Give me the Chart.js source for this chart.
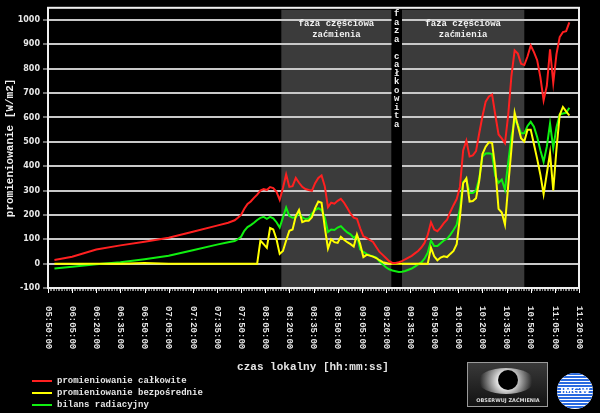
<!DOCTYPE html>
<html>
<head>
<meta charset="utf-8">
<script src="https://cdn.jsdelivr.net/npm/chart.js@4.4.1/dist/chart.umd.min.js"></script>
<style>
  html, body { margin: 0; padding: 0; background: #000; }
</style>
</head>
<body>
<canvas id="promieniowanie" width="600" height="413"></canvas>
<script>
// czas w minutach od 05:50:00
var czas = [4, 15, 30, 45, 60, 75, 90, 105, 112,
  116, 118, 120, 122, 124, 126, 128,
  130, 132, 134, 136, 138, 140, 142, 144, 146, 148,
  150, 152, 154, 156, 158, 160, 162, 164, 166, 168,
  170, 172, 174, 176, 178, 180, 182, 184, 186, 188,
  190, 192, 194, 196, 198, 200, 202, 204, 206, 208,
  210, 212, 214, 216, 218, 220, 222, 224, 226, 228,
  230, 232, 234, 236, 238, 240, 242, 244, 246, 248,
  250, 252, 254, 256, 258, 260, 262, 264, 266, 268,
  270, 272, 274, 276, 278, 280, 282, 284, 286, 288,
  290, 292, 294, 296, 298, 300, 302, 304, 306, 308,
  310, 312, 314, 316, 318, 320, 322, 324];

var calkowite = [15, 28, 58, 75, 90, 106, 131, 156, 168,
  178, 188, 200, 225, 245, 255, 270,
  283, 300, 306, 302, 314, 310, 295, 262, 310, 366,
  315, 318, 352, 332, 315, 306, 302, 299, 330, 352,
  362, 318, 232, 250, 246, 258, 266, 250, 228, 205,
  189, 184, 145, 112, 106, 97, 89, 68, 48, 36,
  23, 10, 3, 3, 6, 10, 18, 25, 32, 42,
  52, 66, 85, 118, 170, 140, 133, 148, 166, 180,
  212, 240, 265, 315, 465, 505, 440, 444, 462, 535,
  605, 665, 686, 694, 610, 530, 514, 494, 610, 770,
  875, 862, 820, 815, 850, 895, 868, 835, 765, 670,
  730, 880, 742, 860, 930, 950, 954, 990];

var bezposrednie = [0, 0, 0, 0, 3, 0, 0, 0, 0,
  0, 0, 0, 0, 0, 0, 0,
  0, 95, 80, 65, 146, 140, 100, 40, 52, 95,
  135, 140, 195, 220, 170, 176, 176, 190, 228, 255,
  250, 150, 62, 100, 88, 85, 110, 98, 88, 80,
  70, 120, 80, 27, 36, 33, 29, 23, 14, 6,
  3, 0, 0, 0, 0, 0, 0, 0, 0, 0,
  0, 0, 0, 0, 66, 30, 14, 25, 30, 27,
  40, 52, 80, 190, 330, 350, 255, 257, 268, 340,
  450, 480, 498, 495, 390, 225, 210, 160, 320, 470,
  620, 565, 515, 501, 550, 550, 490, 430, 365, 285,
  370, 455, 300, 470, 610, 643, 625, 608];

var bilans = [-20, -13, -3, 6, 18, 32, 55, 78, 88,
  93, 100, 110, 135, 150, 158, 168,
  179, 188, 192, 184, 192, 186, 170, 148, 190, 230,
  195, 188, 190, 208, 190, 183, 185, 205, 220, 228,
  220, 190, 130, 140, 138, 148, 154, 140, 128, 120,
  106, 116, 58, 48, 40, 34, 30, 25, 10, -3,
  -15, -23, -28, -31, -34, -33, -30, -25, -20, -12,
  -3, 5, 20, 45, 95, 72, 72, 84, 95, 102,
  118, 138, 160, 225, 335, 345, 290, 290, 300, 350,
  440, 452, 453, 450, 360, 332, 345, 304, 415, 520,
  590, 570, 535, 535, 565, 582, 562, 520, 465, 418,
  480, 575, 475, 560, 612, 616, 619, 640];

var etykiety = ['05:50:00', '06:05:00', '06:20:00', '06:35:00', '06:50:00', '07:05:00',
  '07:20:00', '07:35:00', '07:50:00', '08:05:00', '08:20:00', '08:35:00', '08:50:00',
  '09:05:00', '09:20:00', '09:35:00', '09:50:00', '10:05:00', '10:20:00', '10:35:00',
  '10:50:00', '11:05:00', '11:20:00'];

// fazy zaćmienia (minuty od 05:50:00)
var fazaCzesciowa1 = [145, 213.5];
var fazaCalkowita = [213.5, 220];
var fazaCzesciowa2 = [220, 296];

var nazwy = ['promieniowanie całkowite', 'promieniowanie bezpośrednie', 'bilans radiacyjny'];
var kolory = ['#ff2020', '#ffff00', '#10f010'];

var mono = 'Liberation Mono, Courier New, monospace';

function punkty(seria) {
  return czas.map(function(t, i) { return { x: t, y: seria[i] }; });
}

var tlo = {
  id: 'tlo',
  beforeDraw: function(chart) {
    var c = chart.ctx, a = chart.chartArea, x = chart.scales.x;
    c.save();
    c.fillStyle = '#000';
    c.fillRect(0, 0, chart.width, chart.height);
    c.fillStyle = '#3b3b3b';
    [fazaCzesciowa1, fazaCzesciowa2].forEach(function(f) {
      var x1 = x.getPixelForValue(f[0]), x2 = x.getPixelForValue(f[1]);
      c.fillRect(x1, a.top + 2, x2 - x1, a.bottom - a.top - 2);
    });
    c.restore();
  },
  beforeDatasetsDraw: function(chart) {
    var c = chart.ctx, a = chart.chartArea, x = chart.scales.x;
    c.save();
    // pas fazy całkowitej
    var x1 = x.getPixelForValue(fazaCalkowita[0]), x2 = x.getPixelForValue(fazaCalkowita[1]);
    c.fillStyle = '#000';
    c.fillRect(x1, a.top + 1, x2 - x1, a.bottom - a.top - 1);
    c.fillStyle = '#f2f2f2';
    c.font = 'bold 9px ' + mono;
    c.textAlign = 'center';
    c.textBaseline = 'middle';
    var tekst = 'faza całkowita';
    for (var i = 0; i < tekst.length; i++) {
      c.fillText(tekst[i], (x1 + x2) / 2, 14 + i * 8.5);
    }
    [fazaCzesciowa1, fazaCzesciowa2].forEach(function(f) {
      var xs = (x.getPixelForValue(f[0]) + x.getPixelForValue(f[1])) / 2;
      c.fillText('faza częściowa', xs, 24);
      c.fillText('zaćmienia', xs, 35);
    });
    c.restore();
  },
  afterDraw: function(chart) {
    var c = chart.ctx, a = chart.chartArea, x = chart.scales.x;
    c.save();
    // ramka wykresu
    c.strokeStyle = '#f0f0f0';
    c.lineWidth = 2;
    c.strokeRect(a.left, a.top, a.right - a.left, a.bottom - a.top);

    // podziałka osi czasu (co minutę)
    for (var m = 0; m <= 330; m++) {
      var px = Math.round(x.getPixelForValue(m)) + 0.5;
      c.beginPath();
      c.strokeStyle = m % 15 === 0 ? '#ffffff' : '#8a8a8a';
      c.lineWidth = 1;
      c.moveTo(px, a.bottom + 1);
      c.lineTo(px, a.bottom + (m % 15 === 0 ? 5 : 3));
      c.stroke();
    }

    // etykiety czasu
    c.fillStyle = '#e6e6e6';
    c.font = 'bold 9px ' + mono;
    c.textAlign = 'left';
    c.textBaseline = 'middle';
    etykiety.forEach(function(e, i) {
      c.save();
      c.translate(x.getPixelForValue(i * 15), 306);
      c.rotate(Math.PI / 2);
      c.fillText(e, 0, 0);
      c.restore();
    });

    // tytuł osi X
    c.font = 'bold 11px ' + mono;
    c.textAlign = 'center';
    c.fillText('czas lokalny [hh:mm:ss]', 313, 367);

    // legenda
    c.font = 'bold 9px ' + mono;
    c.textAlign = 'left';
    nazwy.forEach(function(n, i) {
      var y = 381 + i * 12;
      c.strokeStyle = kolory[i];
      c.lineWidth = 2;
      c.beginPath();
      c.moveTo(32, y);
      c.lineTo(52, y);
      c.stroke();
      c.fillStyle = '#e6e6e6';
      c.fillText(n, 57, y);
    });

    // logo "obserwuj zaćmienia"
    var g = c.createLinearGradient(0, 362, 0, 407);
    g.addColorStop(0, '#3a3a3a');
    g.addColorStop(1, '#111');
    c.fillStyle = g;
    c.fillRect(467, 362, 81, 45);
    c.strokeStyle = '#9a9a9a';
    c.lineWidth = 1;
    c.strokeRect(467.5, 362.5, 80, 44);
    var r = c.createRadialGradient(506, 381, 6, 506, 381, 26);
    r.addColorStop(0, '#ffffff');
    r.addColorStop(1, 'rgba(255,255,255,0)');
    c.fillStyle = r;
    c.beginPath();
    c.ellipse(506, 381, 28, 13, 0, 0, Math.PI * 2);
    c.fill();
    c.fillStyle = '#000';
    c.beginPath();
    c.arc(508, 380, 10, 0, Math.PI * 2);
    c.fill();
    c.fillStyle = '#dcdcdc';
    c.font = 'bold 5px DejaVu Sans';
    c.textAlign = 'center';
    c.fillText('OBSERWUJ ZAĆMIENIA', 508, 401);

    // logo IMGW
    c.save();
    c.beginPath();
    c.arc(575, 391, 18, 0, Math.PI * 2);
    c.clip();
    c.fillStyle = '#ffffff';
    c.fillRect(557, 373, 36, 36);
    c.fillStyle = '#2a6ae0';
    for (var s = 0; s < 12; s++) {
      c.fillRect(557, 373 + s * 3, 36, 2);
    }
    c.restore();
    c.fillStyle = '#ffffff';
    c.font = 'bold 9px DejaVu Sans';
    c.fillText('IMGW', 575, 392);
    c.restore();
  }
};

var wykres = new Chart(document.getElementById('promieniowanie').getContext('2d'), {
  type: 'line',
  data: {
    datasets: [{
      label: nazwy[0],
      data: punkty(calkowite),
      borderColor: kolory[0],
      borderWidth: 2,
      pointRadius: 0
    }, {
      label: nazwy[1],
      data: punkty(bezposrednie),
      borderColor: kolory[1],
      borderWidth: 2,
      pointRadius: 0
    }, {
      label: nazwy[2],
      data: punkty(bilans),
      borderColor: kolory[2],
      borderWidth: 2,
      pointRadius: 0
    }]
  },
  options: {
    responsive: false,
    animation: false,
    layout: { padding: { top: 5, right: 21, left: 0, bottom: 0 } },
    plugins: { legend: { display: false }, tooltip: { enabled: false } },
    scales: {
      x: {
        type: 'linear',
        min: 0,
        max: 330,
        afterFit: function(s) { s.height = 125; },
        ticks: { display: false, stepSize: 15 },
        grid: { display: false },
        border: { display: false }
      },
      y: {
        min: -100,
        max: 1050,
        afterFit: function(s) { s.width = 48; },
        ticks: {
          stepSize: 100,
          padding: 3,
          color: '#e8e8e8',
          font: { family: 'DejaVu Sans', size: 8, weight: 'bold' },
          callback: function(v) { return v > 1000 ? '' : v; }
        },
        grid: {
          color: function(c) { return c.tick && c.tick.value > 1000 ? 'rgba(0,0,0,0)' : '#c8c8c8'; },
          tickColor: function(c) { return c.tick && c.tick.value > 1000 ? 'rgba(0,0,0,0)' : '#e0e0e0'; },
          lineWidth: 2,
          tickWidth: 1,
          tickLength: 5
        },
        border: { display: false },
        title: {
          display: true,
          text: 'promieniowanie [W/m2]',
          color: '#f0f0f0',
          font: { family: mono, size: 11, weight: 'bold' },
          padding: { top: 4, bottom: 0 }
        }
      }
    }
  },
  plugins: [tlo]
});
</script>
</body>
</html>
